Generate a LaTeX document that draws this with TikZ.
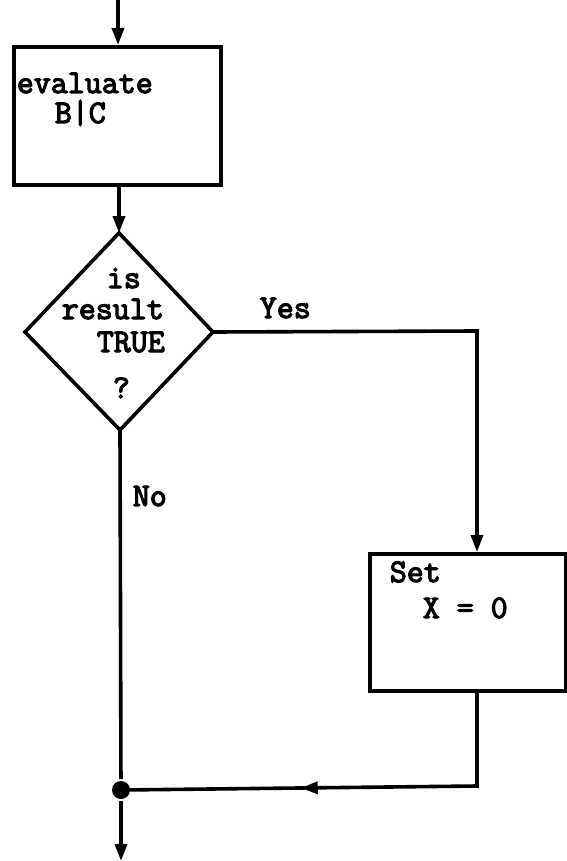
\documentclass[tikz,border=0pt]{standalone}
\usepackage{fontspec}
\setmonofont{Latin Modern Mono}[AutoFakeBold=3.6]
\usetikzlibrary{arrows.meta,decorations.markings}
\begin{document}
\begin{tikzpicture}[x=1pt,y=-1pt,
  line width=3.6pt,
  tip/.style={-{Triangle[length=17pt,width=12pt]}},
  lbl/.style={anchor=base west,inner sep=0pt,font=\fontsize{33}{33}\selectfont\ttfamily\bfseries},
  boxshape/.style={draw,line width=3.6pt,inner sep=0pt,anchor=north west},
  midarrow/.style={postaction={decorate},decoration={markings,mark=at position #1 with {\arrow{Triangle[length=17pt,width=12pt]}}}}]
\useasboundingbox (0,0) rectangle (566,861);
% nodes
\coordinate (start) at (118,0);
\node[boxshape,minimum width=207pt,minimum height=138pt] (eval) at (12,45) {};
\coordinate (dt) at (119,233);
\coordinate (dl) at (25,332);
\coordinate (dr) at (213,332);
\coordinate (db) at (120,430);
\draw[line join=miter] (dt) -- (dr) -- (db) -- (dl) -- cycle;
\node[boxshape,minimum width=196pt,minimum height=137pt] (set) at (368,552) {};
\node[circle,fill,inner sep=0pt,minimum size=18pt] (dot) at (121,790) {};
\coordinate (yescorner) at (477,331);
\coordinate (retcorner) at (477,786);
\coordinate (end) at (121,861);
% texts
\node[lbl] (t1) at (15,93) {evaluate};
\node[lbl] (t2) at (53,123) {B|C};
\node[lbl] (t3) at (105,288) {is};
\node[lbl] (t4) at (60,319) {result};
\node[lbl] (t5) at (95,352) {TRUE};
\node[lbl] (t6) at (111,398) {?};
\node[lbl] (t7) at (258,318) {Yes};
\node[lbl] (t8) at (131,506) {No};
\node[lbl] (t9) at (388,582) {Set};
\node[lbl] (t10) at (421,618) {X = 0};
% connectors
\draw[tip] (start) -- (eval.north -| start);
\draw[tip] (eval.south -| dt) -- (dt);
\draw[tip] (dr) -- (yescorner) -- (set.north -| yescorner);
\draw (db) -- (dot);
\draw[midarrow=0.6] (set.south -| retcorner) -- (retcorner) -- (dot.center);
\draw[tip] (dot) -- (end);
\end{tikzpicture}
\end{document}
